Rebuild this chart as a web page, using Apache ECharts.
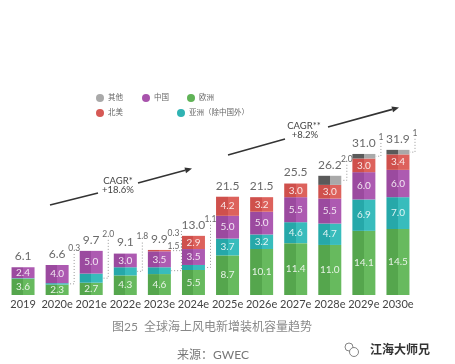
<!DOCTYPE html>
<html><head><meta charset="utf-8">
<script src="https://cdn.jsdelivr.net/npm/echarts@6/dist/echarts.min.js"></script>
<style>html,body{margin:0;padding:0;background:#fff}#c{width:455px;height:364px}</style>
</head><body><div id="c"></div>
<script>
const categories = ['2019','2020e','2021e','2022e','2023e','2024e','2025e','2026e','2027e','2028e','2029e','2030e'];
const europe = [3.6, 2.3, 2.7, 4.3, 4.6, 5.5, 8.7, 10.1, 11.4, 11.0, 14.1, 14.5];
const asiaExChina = [0.1, 0.3, 2.0, 1.8, 1.5, 1.1, 3.7, 3.2, 4.6, 4.7, 6.9, 7.0];
const china = [2.4, 4.0, 5.0, 3.0, 3.5, 3.5, 5.0, 5.0, 5.5, 5.5, 6.0, 6.0];
const northAmerica = [0, 0, 0, 0, 0.3, 2.9, 4.2, 3.2, 3.0, 3.0, 3.0, 3.4];
const others = [0, 0, 0, 0, 0, 0, 0, 0, 0, 2.0, 1.0, 1.0];
const totals = ['6.1','6.6','9.7','9.1','9.9','13.0','21.5','21.5','25.5','26.2','31.0','31.9'];
// small call-outs for thin segments
const annCats = ['2020e','2021e','2022e','2023e','2023e','2024e','2028e','2029e','2030e'];
const annSeries = ['亚洲','亚洲','亚洲','北美','亚洲','亚洲','其他','其他','其他'];
const annText = ['0.3','2.0','1.8','0.3','1.5','1.1','2.0','1','1'];

const FONT = 'Lato, "Noto Sans CJK SC", sans-serif';
const seriesDefs = [
  {name:'欧洲', data:europe, dark:'#55a64d', light:'#67ba5e', label:true},
  {name:'亚洲（除中国外）', key:'亚洲', data:asiaExChina, dark:'#26a8a9', light:'#38bcbc', label:true},
  {name:'中国', data:china, dark:'#9b4a9f', light:'#ad5ab1', label:true},
  {name:'北美', data:northAmerica, dark:'#cf504c', light:'#dd625c', label:true},
  {name:'其他', data:others, dark:'#5a5a5a', light:'#a9a9a9', label:false}
];
function grad(d,l){
  return new echarts.graphic.LinearGradient(0,0,1,0,[
    {offset:0,color:d},{offset:0.5,color:d},{offset:0.5,color:l},{offset:1,color:l}]);
}
const keyIndex = {'欧洲':0,'亚洲':1,'中国':2,'北美':3,'其他':4};
const sums = categories.map((c,i)=>seriesDefs.reduce((s,d)=>s+d.data[i],0));

const annData = annCats.map((c,j)=>{
  const ci = categories.indexOf(c);
  const si = keyIndex[annSeries[j]];
  let base = 0;
  for (let s=0;s<si;s++) base += seriesDefs[s].data[ci];
  const v = seriesDefs[si].data[ci];
  const sameBefore = annCats.slice(0,j).filter(x=>x===c).length;
  const count = annCats.filter(x=>x===c).length;
  return [ci, base, v, sums[ci], sameBefore, count, j];
});

const barSeries = seriesDefs.map(d=>({
  name:d.name, type:'bar', stack:'t', barWidth:23,
  data:d.data,
  itemStyle:{color:grad(d.dark,d.light)},
  label:{show:d.label, position:'inside', fontFamily:FONT, fontSize:10,
    color:'rgba(255,255,255,0.85)',
    formatter:p=> p.value>=2.2 ? p.value.toFixed(1) : ''},
  emphasis:{disabled:true}, animation:false
}));

function arrowShapes(x1,y1,x2,y2,x3,y3,x4,y4){
  const dx=x4-x3, dy=y4-y3, L=Math.hypot(dx,dy), ux=dx/L, uy=dy/L;
  const bx=x4-7*ux, by=y4-7*uy, nx=-uy, ny=ux;
  return [
    {type:'line', shape:{x1,y1,x2,y2}, style:{stroke:'#333', lineWidth:1.6}},
    {type:'line', shape:{x1:x3,y1:y3,x2:bx,y2:by}, style:{stroke:'#333', lineWidth:1.6}},
    {type:'polygon', shape:{points:[[x4,y4],[bx+3*nx,by+3*ny],[bx-3*nx,by-3*ny]]}, style:{fill:'#333'}}
  ];
}

const legendItems = [
  ['其他',91,89,'#a9a9a9'],['中国',137,89,'#a853ac'],['欧洲',182,89,'#60b357'],
  ['北美',91,104,'#d65955'],['亚洲（除中国外）',172,104,'#30b3b3']
];

const option = {
  backgroundColor:'#fff',
  animation:false,
  textStyle:{fontFamily:FONT},
  grid:{left:6, right:40, top:113, bottom:69, containLabel:false},
  xAxis:{type:'category', data:categories, axisLine:{show:false}, axisTick:{show:false},
    axisLabel:{color:'#444', fontSize:11, margin:4, fontFamily:FONT, interval:0}},
  yAxis:{type:'value', min:0, max:40, show:false},
  legend: legendItems.map(l=>({
    data:[{name:l[0], itemStyle:{color:l[3]}}], left:l[1], top:l[2], icon:'circle',
    itemWidth:8, itemHeight:8, itemGap:5, selectedMode:false,
    textStyle:{fontSize:7.5, color:'#666', fontFamily:FONT, padding:[0,0,0,-1]}
  })),
  series: barSeries.concat([
    {type:'scatter', data:categories.map((c,i)=>[i,sums[i]]), symbolSize:0, silent:true,
      label:{show:true, position:'top', distance:5, fontSize:12, color:'#444', fontFamily:FONT,
        formatter:p=>totals[p.dataIndex]}, z:5},
    {type:'custom', silent:true, z:6, data:annData,
      renderItem:function(params, api){
        const ci=api.value(0), base=api.value(1), v=api.value(2), top=api.value(3);
        const k=api.value(4), n=api.value(5), j=api.value(6);
        const pTop=api.coord([ci,top]);
        const pSeg=api.coord([ci,base+v/2]);
        const bw=api.size([1,0])[0];
        const lineX=pTop[0]+bw/2 + (n>1 ? 5 : 0);
        const barRight=pTop[0]+12;
        const ly=pTop[1]-17+k*13;
        const children=[
          {type:'polyline', shape:{points:[[lineX,n>1?ly-2:ly+6],[lineX,pSeg[1]],[barRight,pSeg[1]]]},
            style:{stroke:'#999', lineWidth:1, lineDash:[1,2], fill:null}},
          {type:'text', style:{text:annText[j], x: n>1 ? lineX-2 : lineX, y:ly,
            align: n>1 ? 'right':'center', verticalAlign:'middle', fontSize:8.5, fill:'#666', fontFamily:FONT}}
        ];
        return {type:'group', children};
      }}
  ]),
  graphic:[
    ...arrowShapes(50,205,98,193,138,183,192,168.5),
    ...arrowShapes(228,155,285,139,328,127,399,107.5),
    {type:'text', style:{text:'CAGR*', x:118, y:181, align:'center', verticalAlign:'middle', fontSize:9.5, fill:'#444', fontFamily:FONT}},
    {type:'text', style:{text:'+18.6%', x:118, y:190, align:'center', verticalAlign:'middle', fontSize:9.5, fill:'#444', fontFamily:FONT}},
    {type:'text', style:{text:'CAGR**', x:304, y:126, align:'center', verticalAlign:'middle', fontSize:9.5, fill:'#444', fontFamily:FONT}},
    {type:'text', style:{text:'+8.2%', x:305, y:135, align:'center', verticalAlign:'middle', fontSize:9.5, fill:'#444', fontFamily:FONT}},
    {type:'text', style:{text:'图25  全球海上风电新增装机容量趋势', x:212, y:327, align:'center', verticalAlign:'middle', fontSize:12, fill:'#888', fontFamily:FONT}},
    {type:'text', style:{text:'来源：GWEC', x:213, y:355, align:'center', verticalAlign:'middle', fontSize:12, fill:'#777', fontFamily:FONT}},
    {type:'circle', shape:{cx:349, cy:347, r:4}, style:{stroke:'#666', fill:null, lineWidth:0.8}},
    {type:'circle', shape:{cx:354, cy:352, r:4.5}, style:{stroke:'#666', fill:'#fff', lineWidth:0.8}},
    {type:'text', style:{text:'江海大师兄', x:370, y:350, align:'left', verticalAlign:'middle', fontSize:12, fill:'#333', fontWeight:'bold', fontFamily:FONT}}
  ]
};
const chart = echarts.init(document.getElementById('c'), null, {renderer:'canvas'});
chart.setOption(option);
</script></body></html>
